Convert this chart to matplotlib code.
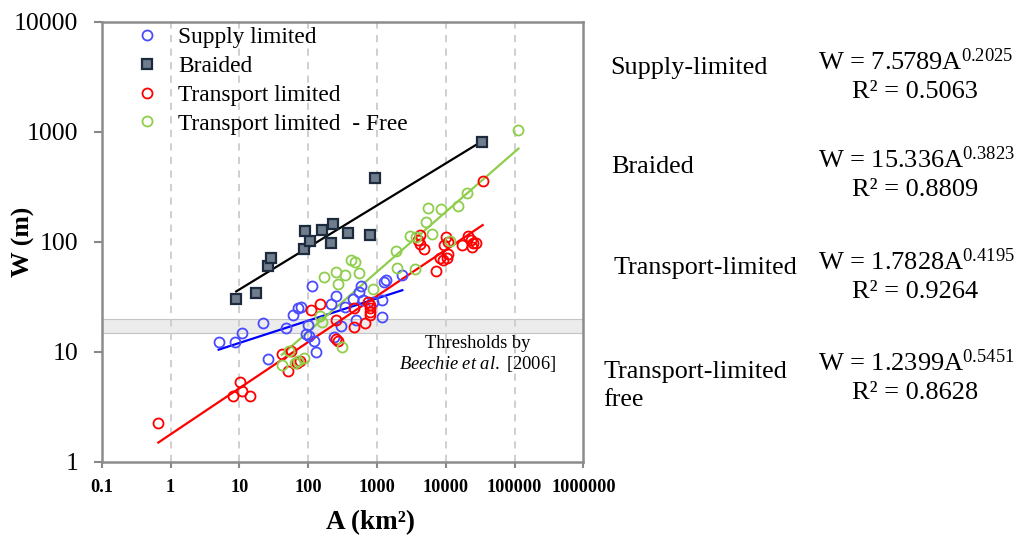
import matplotlib
matplotlib.use("Agg")
import matplotlib.pyplot as plt
import numpy as np

plt.rcParams['font.family'] = ['Liberation Serif', 'DejaVu Serif']
plt.rcParams['mathtext.fontset'] = 'custom'
plt.rcParams['mathtext.rm'] = 'Liberation Serif'
plt.rcParams['mathtext.it'] = 'Liberation Serif:italic'
plt.rcParams['mathtext.bf'] = 'Liberation Serif:bold'

# Supply limited (A km2, W m)
supply_A = [5.0, 8.7, 10.8, 22, 25.7, 47, 60, 71, 78, 92, 103, 100, 113, 123, 131,
            217, 250, 238, 298, 344, 453, 489, 544, 583, 634, 869, 1175, 1178, 1256, 1343, 2332]
supply_W = [12.2, 12.2, 14.8, 18.3, 8.6, 16.5, 21.7, 25, 25.9, 14.6, 14.0, 17.5, 40, 12.5, 10,
            27.2, 32.4, 13.7, 17.3, 25.8, 30.5, 19.4, 34.9, 40.2, 29.4, 28.2, 29.4, 20.9, 43.6, 45, 49.8]

# Braided
braided_A = [9.0, 17.5, 26.1, 28.9, 87, 105, 91, 161, 230, 217, 384, 794, 929, 33300]
braided_W = [30.1, 34.6, 60.1, 72, 86.9, 102, 127, 128.5, 146, 97.3, 120, 116, 379, 806]

# Transport limited
transport_A = [0.665, 8.0, 10.3, 11.1, 14.4, 42.2, 55.5, 51.4, 68.3, 76.2, 109, 149, 255, 255, 272,
               465, 457, 665, 735, 780, 802, 802, 802, 4275, 3890, 4160, 4840, 10100, 10900, 9440,
               8260, 9230, 10900, 10350, 7180, 17260, 21300, 22900, 24900, 23900, 27300, 34300]
transport_W = [2.25, 3.96, 5.3, 4.42, 4.02, 9.55, 10.3, 6.65, 8.0, 8.3, 24.2, 27.3, 19.5, 13.1, 12.7,
               25, 16.9, 18.2, 28.7, 26.8, 25, 23.3, 21.7, 116, 104, 96, 86.4, 112, 100.7, 93,
               70.8, 69.3, 77.8, 71.6, 54.2, 94, 113, 105, 98.9, 90.6, 96.9, 359]

# Transport limited - free
free_A = [41.3, 52.3, 64.5, 71.3, 88, 151, 161, 311, 171, 252, 344, 540, 272, 863, 420, 481,
          1862, 1960, 3520, 3030, 3740, 5170, 5590, 6390, 8550, 11540, 14850, 20200, 113500]
free_W = [7.54, 10.3, 7.89, 8.2, 8.77, 21.2, 18.6, 11.1, 48.1, 53.4, 49.8, 51.9, 41.8, 37.6, 68.6, 65.8,
          82.8, 58.4, 57.2, 113, 112, 152, 205, 117, 200, 103, 214, 279, 1050]

# power-law fits W = a * A^b
fits = {
    'supply': (7.5789, 0.2025),
    'braided': (15.336, 0.3823),
    'transport': (1.7828, 0.4195),
    'free': (1.2399, 0.5451),
}

x_ticks = [0.1, 1, 10, 100, 1000, 10000, 100000, 1000000]
x_labels = ['0.1', '1', '10', '100', '1000', '10000', '100000', '1000000']
y_ticks = [1, 10, 100, 1000, 10000]
y_labels = ['1', '10', '100', '1000', '10000']

c_blue = '#4a4aff'
c_red = '#ff0000'
c_green = '#8fce4c'
c_sq_face = '#6f7d8c'
c_sq_edge = '#1c2b3d'

fig = plt.figure(figsize=(10.19, 5.39), dpi=100)
ax = fig.add_axes([0.0998, 0.1429, 0.4728, 0.8163])
ax.set_xscale('log')
ax.set_yscale('log')
ax.set_xlim(0.1, 1e6)
ax.set_ylim(1, 1e4)

# thresholds band
ax.axhspan(15, 20, facecolor='#ececec', edgecolor='#c4c4c4', lw=0.8, zorder=0)

# vertical dashed grid
for xv in x_ticks[1:-1]:
    ax.axvline(xv, color='#cccccc', lw=1.3, linestyle=(0, (4, 3.5)), zorder=0.5)

def fit_line(A, key, color):
    a, b = fits[key]
    xs = np.logspace(np.log10(min(A)), np.log10(max(A)), 50)
    ax.plot(xs, a * xs ** b, color=color, lw=1.6, zorder=2)

ms = 7.2
ax.plot(supply_A, supply_W, 'o', mfc='none', mec=c_blue, mew=1.3, ms=ms, zorder=3, label='Supply limited')
ax.plot(braided_A, braided_W, 's', mfc=c_sq_face, mec=c_sq_edge, mew=1.6, ms=7.6, zorder=3, label='Braided')
ax.plot(transport_A, transport_W, 'o', mfc='none', mec=c_red, mew=1.3, ms=ms, zorder=3, label='Transport limited')
ax.plot(free_A, free_W, 'o', mfc='none', mec=c_green, mew=1.3, ms=ms, zorder=3, label='Transport limited  - Free')

fit_line(supply_A, 'supply', '#0000ff')
fit_line(braided_A, 'braided', '#000000')
fit_line(transport_A, 'transport', '#ff0000')
fit_line(free_A, 'free', c_green)

ax.set_xticks(x_ticks)
ax.set_xticklabels(x_labels, fontsize=13.2, fontweight='bold')
ax.set_yticks(y_ticks)
ax.set_yticklabels(y_labels, fontsize=18.5)
ax.minorticks_off()
ax.tick_params(axis='y', length=6, width=1.5, color='#888888', pad=11)
ax.tick_params(axis='x', length=4, width=1.5, color='#888888', pad=8)
for s in ax.spines.values():
    s.set_color('#8c8c8c')
    s.set_linewidth(1.8)

ax.set_ylabel('W (m)', fontsize=18.5, fontweight='bold', va='center')
ax.yaxis.set_label_coords(-78.7 / 481.8, 0.5)
ax.set_xlabel('A (km²)', fontsize=19.5, fontweight='bold', va='center')
ax.xaxis.set_label_coords(0.558, -61 / 440)

leg = ax.legend(loc='upper left', bbox_to_anchor=(0.05, 1.01), frameon=False, fontsize=16.8,
                handlelength=1.0, handletextpad=0.85, labelspacing=0.32, borderaxespad=0)

fig.text(478 / 1019, 1 - 343 / 539, 'Thresholds by', fontsize=13.3, ha='center', va='center')
fig.text(478 / 1019, 1 - 364 / 539, '$\\mathit{Beechie\\ et\\ al.}$ [2006]', fontsize=13.3, ha='center', va='center')

# right-hand annotations
labels_r = ['Supply-limited', 'Braided', 'Transport-limited', 'Transport-limited\nfree']
eqs = [('7.5789', '0.2025', '0.5063'), ('15.336', '0.3823', '0.8809'),
       ('1.7828', '0.4195', '0.9264'), ('1.2399', '0.5451', '0.8628')]
lab_x = [610, 611, 613, 603]
lab_y = [68, 167, 268, 386]
eq_y = [62, 160, 262, 363]
for i in range(4):
    fig.text(lab_x[i] / 1019, 1 - lab_y[i] / 539, labels_r[i], fontsize=18.8, ha='left', va='center',
             linespacing=1.3)
    a, b, r2 = eqs[i]
    fig.text(818 / 1019, 1 - eq_y[i] / 539, 'W = ' + a + 'A$^{' + b + '}$', fontsize=19, ha='left', va='center')
    fig.text(915 / 1019, 1 - (eq_y[i] + 30) / 539, 'R² = ' + r2, fontsize=19, ha='center', va='center')

fig.savefig('out.png', dpi=100)
